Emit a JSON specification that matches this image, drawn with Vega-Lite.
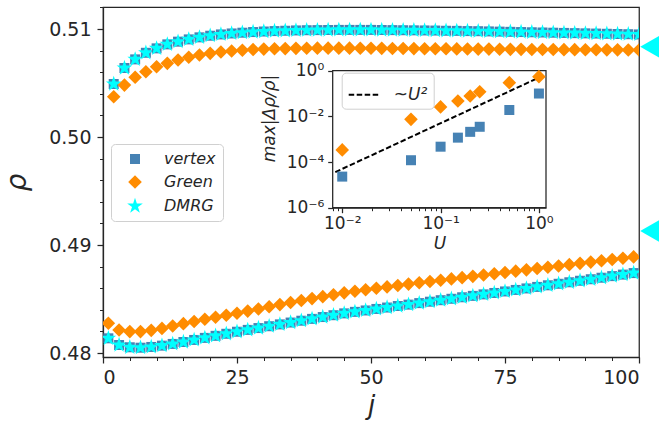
{
  "$schema": "https://vega.github.io/schema/vega-lite/v6.json",
  "width": 536,
  "height": 350,
  "autosize": "none",
  "padding": {"left": 103, "top": 7, "right": 20, "bottom": 69},
  "background": "white",
  "config": {
    "view": {"stroke": "#262626", "strokeWidth": 1.25},
    "axis": {
      "grid": false,
      "zindex": 1,
      "domainColor": "#262626",
      "domainWidth": 1.25,
      "tickColor": "#262626",
      "tickWidth": 1.25,
      "labelColor": "#262626",
      "labelFont": "DejaVu Sans",
      "titleColor": "#262626",
      "titleFont": "DejaVu Sans",
      "titleFontWeight": "normal",
      "titleFontStyle": "italic"
    }
  },
  "datasets": {
    "profile": [
      {"j": 1, "vertex": 0.48136, "Green": 0.48275, "DMRG": 0.48136},
      {"j": 2, "vertex": 0.50491, "Green": 0.50373, "DMRG": 0.50491},
      {"j": 3, "vertex": 0.48074, "Green": 0.48213, "DMRG": 0.48074},
      {"j": 4, "vertex": 0.50639, "Green": 0.50481, "DMRG": 0.50639},
      {"j": 5, "vertex": 0.48053, "Green": 0.48198, "DMRG": 0.48053},
      {"j": 6, "vertex": 0.50719, "Green": 0.50553, "DMRG": 0.50719},
      {"j": 7, "vertex": 0.48049, "Green": 0.48198, "DMRG": 0.48049},
      {"j": 8, "vertex": 0.50780, "Green": 0.50605, "DMRG": 0.50780},
      {"j": 9, "vertex": 0.48056, "Green": 0.48210, "DMRG": 0.48056},
      {"j": 10, "vertex": 0.50821, "Green": 0.50651, "DMRG": 0.50821},
      {"j": 11, "vertex": 0.48068, "Green": 0.48228, "DMRG": 0.48068},
      {"j": 12, "vertex": 0.50858, "Green": 0.50682, "DMRG": 0.50858},
      {"j": 13, "vertex": 0.48084, "Green": 0.48250, "DMRG": 0.48084},
      {"j": 14, "vertex": 0.50883, "Green": 0.50713, "DMRG": 0.50883},
      {"j": 15, "vertex": 0.48102, "Green": 0.48272, "DMRG": 0.48102},
      {"j": 16, "vertex": 0.50904, "Green": 0.50738, "DMRG": 0.50904},
      {"j": 17, "vertex": 0.48121, "Green": 0.48292, "DMRG": 0.48121},
      {"j": 18, "vertex": 0.50923, "Green": 0.50759, "DMRG": 0.50923},
      {"j": 19, "vertex": 0.48140, "Green": 0.48312, "DMRG": 0.48140},
      {"j": 20, "vertex": 0.50938, "Green": 0.50775, "DMRG": 0.50938},
      {"j": 21, "vertex": 0.48159, "Green": 0.48331, "DMRG": 0.48159},
      {"j": 22, "vertex": 0.50950, "Green": 0.50787, "DMRG": 0.50950},
      {"j": 23, "vertex": 0.48178, "Green": 0.48350, "DMRG": 0.48178},
      {"j": 24, "vertex": 0.50959, "Green": 0.50797, "DMRG": 0.50959},
      {"j": 25, "vertex": 0.48197, "Green": 0.48368, "DMRG": 0.48197},
      {"j": 26, "vertex": 0.50966, "Green": 0.50804, "DMRG": 0.50966},
      {"j": 27, "vertex": 0.48214, "Green": 0.48388, "DMRG": 0.48214},
      {"j": 28, "vertex": 0.50972, "Green": 0.50810, "DMRG": 0.50972},
      {"j": 29, "vertex": 0.48231, "Green": 0.48408, "DMRG": 0.48231},
      {"j": 30, "vertex": 0.50977, "Green": 0.50814, "DMRG": 0.50977},
      {"j": 31, "vertex": 0.48248, "Green": 0.48428, "DMRG": 0.48248},
      {"j": 32, "vertex": 0.50981, "Green": 0.50817, "DMRG": 0.50981},
      {"j": 33, "vertex": 0.48265, "Green": 0.48448, "DMRG": 0.48265},
      {"j": 34, "vertex": 0.50984, "Green": 0.50819, "DMRG": 0.50984},
      {"j": 35, "vertex": 0.48282, "Green": 0.48467, "DMRG": 0.48282},
      {"j": 36, "vertex": 0.50987, "Green": 0.50821, "DMRG": 0.50987},
      {"j": 37, "vertex": 0.48299, "Green": 0.48486, "DMRG": 0.48299},
      {"j": 38, "vertex": 0.50989, "Green": 0.50822, "DMRG": 0.50989},
      {"j": 39, "vertex": 0.48316, "Green": 0.48504, "DMRG": 0.48316},
      {"j": 40, "vertex": 0.50990, "Green": 0.50823, "DMRG": 0.50990},
      {"j": 41, "vertex": 0.48333, "Green": 0.48522, "DMRG": 0.48333},
      {"j": 42, "vertex": 0.50991, "Green": 0.50823, "DMRG": 0.50991},
      {"j": 43, "vertex": 0.48350, "Green": 0.48540, "DMRG": 0.48350},
      {"j": 44, "vertex": 0.50992, "Green": 0.50823, "DMRG": 0.50992},
      {"j": 45, "vertex": 0.48367, "Green": 0.48557, "DMRG": 0.48367},
      {"j": 46, "vertex": 0.50992, "Green": 0.50823, "DMRG": 0.50992},
      {"j": 47, "vertex": 0.48381, "Green": 0.48572, "DMRG": 0.48381},
      {"j": 48, "vertex": 0.50992, "Green": 0.50822, "DMRG": 0.50992},
      {"j": 49, "vertex": 0.48394, "Green": 0.48586, "DMRG": 0.48394},
      {"j": 50, "vertex": 0.50992, "Green": 0.50822, "DMRG": 0.50992},
      {"j": 51, "vertex": 0.48408, "Green": 0.48599, "DMRG": 0.48408},
      {"j": 52, "vertex": 0.50991, "Green": 0.50821, "DMRG": 0.50991},
      {"j": 53, "vertex": 0.48421, "Green": 0.48612, "DMRG": 0.48421},
      {"j": 54, "vertex": 0.50990, "Green": 0.50820, "DMRG": 0.50990},
      {"j": 55, "vertex": 0.48435, "Green": 0.48625, "DMRG": 0.48435},
      {"j": 56, "vertex": 0.50989, "Green": 0.50820, "DMRG": 0.50989},
      {"j": 57, "vertex": 0.48448, "Green": 0.48638, "DMRG": 0.48448},
      {"j": 58, "vertex": 0.50988, "Green": 0.50819, "DMRG": 0.50988},
      {"j": 59, "vertex": 0.48462, "Green": 0.48650, "DMRG": 0.48462},
      {"j": 60, "vertex": 0.50987, "Green": 0.50818, "DMRG": 0.50987},
      {"j": 61, "vertex": 0.48475, "Green": 0.48662, "DMRG": 0.48475},
      {"j": 62, "vertex": 0.50986, "Green": 0.50817, "DMRG": 0.50986},
      {"j": 63, "vertex": 0.48489, "Green": 0.48674, "DMRG": 0.48489},
      {"j": 64, "vertex": 0.50984, "Green": 0.50817, "DMRG": 0.50984},
      {"j": 65, "vertex": 0.48502, "Green": 0.48686, "DMRG": 0.48502},
      {"j": 66, "vertex": 0.50983, "Green": 0.50816, "DMRG": 0.50983},
      {"j": 67, "vertex": 0.48516, "Green": 0.48698, "DMRG": 0.48516},
      {"j": 68, "vertex": 0.50981, "Green": 0.50815, "DMRG": 0.50981},
      {"j": 69, "vertex": 0.48529, "Green": 0.48710, "DMRG": 0.48529},
      {"j": 70, "vertex": 0.50980, "Green": 0.50814, "DMRG": 0.50980},
      {"j": 71, "vertex": 0.48543, "Green": 0.48722, "DMRG": 0.48543},
      {"j": 72, "vertex": 0.50978, "Green": 0.50814, "DMRG": 0.50978},
      {"j": 73, "vertex": 0.48556, "Green": 0.48734, "DMRG": 0.48556},
      {"j": 74, "vertex": 0.50976, "Green": 0.50813, "DMRG": 0.50976},
      {"j": 75, "vertex": 0.48570, "Green": 0.48746, "DMRG": 0.48570},
      {"j": 76, "vertex": 0.50974, "Green": 0.50812, "DMRG": 0.50974},
      {"j": 77, "vertex": 0.48584, "Green": 0.48758, "DMRG": 0.48584},
      {"j": 78, "vertex": 0.50972, "Green": 0.50812, "DMRG": 0.50972},
      {"j": 79, "vertex": 0.48598, "Green": 0.48770, "DMRG": 0.48598},
      {"j": 80, "vertex": 0.50970, "Green": 0.50811, "DMRG": 0.50970},
      {"j": 81, "vertex": 0.48612, "Green": 0.48782, "DMRG": 0.48612},
      {"j": 82, "vertex": 0.50968, "Green": 0.50810, "DMRG": 0.50968},
      {"j": 83, "vertex": 0.48627, "Green": 0.48794, "DMRG": 0.48627},
      {"j": 84, "vertex": 0.50966, "Green": 0.50810, "DMRG": 0.50966},
      {"j": 85, "vertex": 0.48641, "Green": 0.48806, "DMRG": 0.48641},
      {"j": 86, "vertex": 0.50964, "Green": 0.50809, "DMRG": 0.50964},
      {"j": 87, "vertex": 0.48655, "Green": 0.48818, "DMRG": 0.48655},
      {"j": 88, "vertex": 0.50962, "Green": 0.50809, "DMRG": 0.50962},
      {"j": 89, "vertex": 0.48669, "Green": 0.48830, "DMRG": 0.48669},
      {"j": 90, "vertex": 0.50960, "Green": 0.50808, "DMRG": 0.50960},
      {"j": 91, "vertex": 0.48683, "Green": 0.48842, "DMRG": 0.48683},
      {"j": 92, "vertex": 0.50958, "Green": 0.50808, "DMRG": 0.50958},
      {"j": 93, "vertex": 0.48697, "Green": 0.48854, "DMRG": 0.48697},
      {"j": 94, "vertex": 0.50956, "Green": 0.50807, "DMRG": 0.50956},
      {"j": 95, "vertex": 0.48712, "Green": 0.48866, "DMRG": 0.48712},
      {"j": 96, "vertex": 0.50954, "Green": 0.50807, "DMRG": 0.50954},
      {"j": 97, "vertex": 0.48726, "Green": 0.48878, "DMRG": 0.48726},
      {"j": 98, "vertex": 0.50952, "Green": 0.50806, "DMRG": 0.50952},
      {"j": 99, "vertex": 0.48740, "Green": 0.48890, "DMRG": 0.48740},
      {"j": 100, "vertex": 0.50950, "Green": 0.50806, "DMRG": 0.50950}
    ],
    "bulk": [
      {"j": 102, "rho": 0.50836},
      {"j": 102, "rho": 0.49130}
    ],
    "frame": [
      {"U": 0.008, "U2": 1.18, "err": 0.000001, "err2": 1}
    ],
    "scaling": [
      {"U": 0.01, "series": "vertex", "err": 0.000023},
      {"U": 0.05, "series": "vertex", "err": 0.00012},
      {"U": 0.1, "series": "vertex", "err": 0.00047},
      {"U": 0.15, "series": "vertex", "err": 0.00117},
      {"U": 0.2, "series": "vertex", "err": 0.0021},
      {"U": 0.25, "series": "vertex", "err": 0.0035},
      {"U": 0.5, "series": "vertex", "err": 0.019},
      {"U": 1.0, "series": "vertex", "err": 0.10},
      {"U": 0.01, "series": "Green", "err": 0.00034},
      {"U": 0.05, "series": "Green", "err": 0.0074},
      {"U": 0.1, "series": "Green", "err": 0.026},
      {"U": 0.15, "series": "Green", "err": 0.047},
      {"U": 0.2, "series": "Green", "err": 0.078},
      {"U": 0.25, "series": "Green", "err": 0.12},
      {"U": 0.5, "series": "Green", "err": 0.30},
      {"U": 1.0, "series": "Green", "err": 0.55}
    ],
    "guide": [
      {"U": 0.0085, "err": 0.0000361, "fit": "~U²"},
      {"U": 1.1, "err": 0.605, "fit": "~U²"}
    ]
  },
  "layer": [
    {
      "layer": [
        {
          "data": {"name": "profile"},
          "transform": [{"fold": ["vertex", "Green", "DMRG"], "as": ["series", "rho"]}],
          "mark": {"type": "point", "filled": true, "clip": true, "opacity": 1, "strokeWidth": 0},
          "encoding": {
            "x": {
              "field": "j", "type": "quantitative",
              "scale": {"domain": [0, 100], "nice": false, "zero": false},
              "axis": {
                "orient": "bottom", "values": [0, 25, 50, 75, 100], "format": "d",
                "labelFontSize": 19, "labelPadding": 5, "tickSize": 6,
                "title": "j", "titleFontSize": 26, "titlePadding": 5
              }
            },
            "y": {
              "field": "rho", "type": "quantitative",
              "scale": {"domain": [0.47963, 0.51204], "nice": false, "zero": false},
              "axis": {
                "orient": "left", "values": [0.48, 0.49, 0.5, 0.51], "format": ".2f",
                "labelFontSize": 19, "labelPadding": 6, "tickSize": 6,
                "title": "ρ", "titleFontSize": 28, "titlePadding": 17
              }
            },
            "color": {
              "field": "series", "type": "nominal",
              "scale": {"domain": ["vertex", "Green", "DMRG"], "range": ["#4682b4", "#ff8c00", "#00ffff"]},
              "legend": {
                "orient": "none", "legendX": 8, "legendY": 137, "title": null,
                "fillColor": "white", "strokeColor": "#d0d0d0", "cornerRadius": 4,
                "padding": 7, "rowPadding": 7, "symbolOffset": 8, "labelOffset": 20,
                "labelFont": "DejaVu Sans", "labelFontStyle": "italic", "labelFontSize": 16, "labelColor": "#262626"
              }
            },
            "shape": {
              "field": "series", "type": "nominal",
              "scale": {
                "domain": ["vertex", "Green", "DMRG"],
                "range": ["square", "diamond", "M0,-1L0.225,-0.309L0.951,-0.309L0.363,0.118L0.588,0.809L0,0.382L-0.588,0.809L-0.363,0.118L-0.951,-0.309L-0.225,-0.309Z"]
              },
              "legend": {
                "orient": "none", "legendX": 8, "legendY": 137, "title": null,
                "fillColor": "white", "strokeColor": "#d0d0d0", "cornerRadius": 4,
                "padding": 7, "rowPadding": 7, "symbolOffset": 8, "labelOffset": 20,
                "labelFont": "DejaVu Sans", "labelFontStyle": "italic", "labelFontSize": 16, "labelColor": "#262626"
              }
            },
            "size": {
              "field": "series", "type": "nominal",
              "scale": {"domain": ["vertex", "Green", "DMRG"], "range": [100, 270, 81]},
              "legend": {
                "orient": "none", "legendX": 8, "legendY": 137, "title": null,
                "fillColor": "white", "strokeColor": "#d0d0d0", "cornerRadius": 4,
                "padding": 7, "rowPadding": 7, "symbolOffset": 8, "labelOffset": 20,
                "labelFont": "DejaVu Sans", "labelFontStyle": "italic", "labelFontSize": 16, "labelColor": "#262626"
              }
            }
          }
        },
        {
          "data": {"name": "bulk"},
          "mark": {"type": "point", "shape": "triangle-left", "filled": true, "color": "#00ffff", "size": 480, "opacity": 1, "clip": false},
          "encoding": {
            "x": {
              "field": "j", "type": "quantitative",
              "scale": {"domain": [0, 100], "nice": false, "zero": false},
              "axis": {
                "orient": "bottom", "values": [0, 5, 10, 15, 20, 25, 30, 35, 40, 45, 50, 55, 60, 65, 70, 75, 80, 85, 90, 95, 100],
                "labels": false, "domain": false, "tickSize": 3.5, "tickWidth": 1, "title": null
              }
            },
            "y": {
              "field": "rho", "type": "quantitative",
              "scale": {"domain": [0.47963, 0.51204], "nice": false, "zero": false},
              "axis": {
                "orient": "left", "values": [0.48, 0.482, 0.484, 0.486, 0.488, 0.49, 0.492, 0.494, 0.496, 0.498, 0.5, 0.502, 0.504, 0.506, 0.508, 0.51, 0.512],
                "labels": false, "domain": false, "tickSize": 3.5, "tickWidth": 1, "title": null
              }
            }
          }
        }
      ],
      "resolve": {"axis": {"x": "independent", "y": "independent"}}
    },
    {
      "layer": [
        {
          "data": {"name": "frame"},
          "mark": {"type": "rect", "fill": "white", "stroke": "#262626", "strokeWidth": 1.25},
          "encoding": {
            "x": {
              "field": "U", "type": "quantitative",
              "scale": {"type": "log", "domain": [0.008, 1.18], "range": [229.7, 443], "nice": false},
              "axis": {
                "orient": "bottom", "offset": -149.3, "values": [0.01, 0.1, 1],
                "labelExpr": "'10' + (datum.value < 1 ? '⁻' : '') + substring('⁰¹²³⁴⁵⁶⁷⁸⁹', abs(round(log(datum.value) / LN10)), abs(round(log(datum.value) / LN10)) + 1)",
                "labelFontSize": 17, "labelPadding": 3, "tickSize": 5,
                "title": "U", "titleFontSize": 17, "titlePadding": 4
              }
            },
            "x2": {"field": "U2"},
            "y": {
              "field": "err", "type": "quantitative",
              "scale": {"type": "log", "domain": [0.000001, 1], "range": [200.7, 63.7], "nice": false},
              "axis": {
                "orient": "left", "offset": -229.7, "values": [0.000001, 0.0001, 0.01, 1],
                "labelExpr": "'10' + (datum.value < 1 ? '⁻' : '') + substring('⁰¹²³⁴⁵⁶⁷⁸⁹', abs(round(log(datum.value) / LN10)), abs(round(log(datum.value) / LN10)) + 1)",
                "labelFontSize": 17, "labelPadding": 4, "tickSize": 5,
                "title": "max|Δρ/ρ|", "titleFontSize": 17, "titlePadding": 8, "titleY": 111
              }
            },
            "y2": {"field": "err2"}
          }
        },
        {
          "data": {"name": "guide"},
          "mark": {"type": "line", "strokeWidth": 2, "clip": false},
          "encoding": {
            "x": {
              "field": "U", "type": "quantitative",
              "scale": {"type": "log", "domain": [0.008, 1.18], "range": [229.7, 443], "nice": false},
              "axis": {
                "orient": "bottom", "offset": -149.3,
                "values": [0.008, 0.009, 0.02, 0.03, 0.04, 0.05, 0.06, 0.07, 0.08, 0.09, 0.2, 0.3, 0.4, 0.5, 0.6, 0.7, 0.8, 0.9],
                "labels": false, "domain": false, "tickSize": 3, "tickWidth": 1, "title": null
              }
            },
            "y": {
              "field": "err", "type": "quantitative",
              "scale": {"type": "log", "domain": [0.000001, 1], "range": [200.7, 63.7], "nice": false},
              "axis": null
            },
            "color": {"value": "black"},
            "strokeDash": {
              "field": "fit", "type": "nominal",
              "scale": {"range": [[5.5, 2.5]]},
              "legend": {
                "orient": "none", "legendX": 238.7, "legendY": 65.7, "title": null,
                "fillColor": "white", "strokeColor": "#d0d0d0", "cornerRadius": 4,
                "padding": 6, "symbolType": "stroke", "symbolSize": 900, "symbolStrokeWidth": 2,
                "symbolStrokeColor": "black", "labelOffset": 14,
                "labelFont": "DejaVu Sans", "labelFontStyle": "italic", "labelFontSize": 17, "labelColor": "#262626"
              }
            }
          }
        },
        {
          "data": {"name": "scaling"},
          "mark": {"type": "point", "filled": true, "opacity": 1, "strokeWidth": 0},
          "encoding": {
            "x": {
              "field": "U", "type": "quantitative",
              "scale": {"type": "log", "domain": [0.008, 1.18], "range": [229.7, 443], "nice": false},
              "axis": null
            },
            "y": {
              "field": "err", "type": "quantitative",
              "scale": {"type": "log", "domain": [0.000001, 1], "range": [200.7, 63.7], "nice": false},
              "axis": null
            },
            "color": {"field": "series", "type": "nominal"},
            "shape": {"field": "series", "type": "nominal"},
            "size": {"field": "series", "type": "nominal"}
          }
        }
      ],
      "resolve": {"axis": {"x": "independent", "y": "independent"}}
    }
  ],
  "resolve": {
    "scale": {"x": "independent", "y": "independent"},
    "axis": {"x": "independent", "y": "independent"}
  }
}
